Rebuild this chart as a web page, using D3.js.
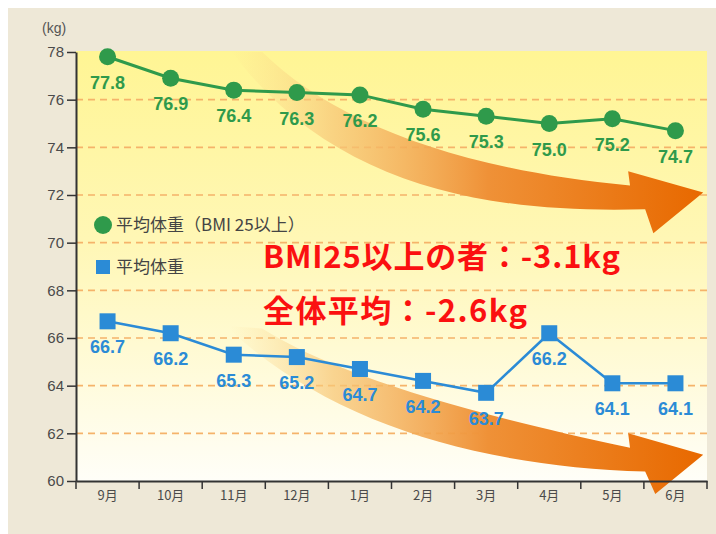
<!DOCTYPE html>
<html>
<head>
<meta charset="utf-8">
<script src="https://cdn.jsdelivr.net/npm/d3@7"></script>
<style>
  html, body { margin: 0; padding: 0; background: #fff; }
  svg { display: block; }
</style>
</head>
<body>
<div id="chart"></div>
<script>
// data
var months = ["9月", "10月", "11月", "12月", "1月", "2月", "3月", "4月", "5月", "6月"];
var bmiOver25 = [77.8, 76.9, 76.4, 76.3, 76.2, 75.6, 75.3, 75.0, 75.2, 74.7];
var overall = [66.7, 66.2, 65.3, 65.2, 64.7, 64.2, 63.7, 66.2, 64.1, 64.1];
var yTicks = [60, 62, 64, 66, 68, 70, 72, 74, 76, 78];
var legendNames = ["平均体重（BMI 25以上）", "平均体重"];
var notes = ["BMI25以上の者：-3.1kg", "全体平均：-2.6kg"];

var W = 716, H = 534;
var plot = { left: 76, right: 707, top: 52, bottom: 481 };
var green = "#2f9a4b", blue = "#2b8bd6";
var cjk = "'Noto Sans CJK JP', 'Noto Sans', sans-serif";
var num = "'Liberation Sans', Arial, sans-serif";

var svg = d3.select("#chart").append("svg")
  .attr("width", W).attr("height", H);

var defs = svg.append("defs");
var bg = defs.append("linearGradient").attr("id", "plotbg")
  .attr("x1", 0).attr("y1", 0).attr("x2", 0).attr("y2", 1);
bg.append("stop").attr("offset", "0%").attr("stop-color", "#fff594");
bg.append("stop").attr("offset", "45%").attr("stop-color", "#fff7b6");
bg.append("stop").attr("offset", "100%").attr("stop-color", "#fffef8");

var ag = defs.append("linearGradient").attr("id", "arrowgrad")
  .attr("gradientUnits", "userSpaceOnUse")
  .attr("x1", 230).attr("y1", 0).attr("x2", 700).attr("y2", 0);
ag.append("stop").attr("offset", "0%").attr("stop-color", "#fbd98c").attr("stop-opacity", 0);
ag.append("stop").attr("offset", "22%").attr("stop-color", "#f7c777").attr("stop-opacity", 0.75);
ag.append("stop").attr("offset", "55%").attr("stop-color", "#ef9137").attr("stop-opacity", 1);
ag.append("stop").attr("offset", "100%").attr("stop-color", "#e86900").attr("stop-opacity", 1);

// panel
svg.append("rect").attr("x", 8).attr("y", 8).attr("width", W - 8).attr("height", H - 8)
  .attr("fill", "#eee8d7");

/* Scales */
var x = d3.scaleBand().domain(months).range([plot.left, plot.right]);
var cx = function(i) { return x(months[i]) + x.bandwidth() / 2; };
var y = d3.scaleLinear().domain([60, 78]).range([plot.bottom, plot.top]);

svg.append("rect")
  .attr("x", plot.left).attr("y", plot.top - 1)
  .attr("width", plot.right - plot.left).attr("height", plot.bottom - plot.top + 1)
  .attr("fill", "url(#plotbg)");

// dashed grid
svg.append("g").selectAll("line")
  .data(yTicks.filter(function(t) { return t > 60 && t < 78; }))
  .enter().append("line")
  .attr("x1", plot.left).attr("x2", plot.right)
  .attr("y1", function(d) { return y(d); }).attr("y2", function(d) { return y(d); })
  .attr("stroke", "#f5b36a").attr("stroke-width", 1.6)
  .attr("stroke-dasharray", "7,5");

// trend arrows (in data units: category index, kg)
var xi = d3.scaleLinear().domain([0, 9]).range([cx(0), cx(9)]);
function arrowPath(p) {
  var pt = function(a) { return xi(a[0]) + "," + y(a[1]); };
  return "M" + pt(p[0]) + " C" + pt(p[1]) + " " + pt(p[2]) + " " + pt(p[3]) +
    " L" + pt(p[4]) + " L" + pt(p[5]) + " L" + pt(p[6]) + " L" + pt(p[7]) +
    " C" + pt(p[8]) + " " + pt(p[9]) + " " + pt(p[10]) + "Z";
}
var upperArrow = [[2.45, 78], [3.53, 75.2], [5.43, 73.1], [8.28, 72.4], [8.25, 73.0], [9.44, 72.1],
  [8.65, 70.4], [8.52, 71.4], [5.9, 71.2], [3.53, 72.5], [1.97, 78]];
var lowerArrow = [[2.45, 66.4], [3.53, 64.6], [5.43, 63.0], [8.28, 61.4], [8.25, 62.0], [9.44, 61.1],
  [8.68, 59.45], [8.52, 60.4], [5.9, 60.6], [3.53, 62.4], [1.87, 66.5]];
svg.append("g").selectAll("path")
  .data([upperArrow, lowerArrow])
  .enter().append("path")
  .attr("d", arrowPath)
  .attr("fill", "url(#arrowgrad)");

/* Axes */
var yAxis = d3.axisLeft(y).tickValues(yTicks).tickSize(9).tickSizeOuter(0).tickPadding(3);
var gy = svg.append("g").attr("transform", "translate(" + plot.left + ",0)").call(yAxis);
gy.select(".domain").attr("stroke", "#333").attr("stroke-width", 2);
gy.selectAll(".tick line").attr("stroke", "#333").attr("stroke-width", 1.5);
gy.selectAll(".tick text").attr("fill", "#4a4a4a").attr("font-size", 15)
  .attr("font-family", num);

var xAxis = d3.axisBottom(x).tickSize(0).tickPadding(10);
var gx = svg.append("g").attr("transform", "translate(0," + plot.bottom + ")").call(xAxis);
gx.select(".domain").attr("stroke", "#333").attr("stroke-width", 2);
gx.selectAll(".tick text").attr("fill", "#4a4a4a").attr("font-size", 13)
  .attr("font-family", cjk);
gx.selectAll("line.bound")
  .data(months.map(function(m) { return x(m); }).concat([plot.right]))
  .enter().append("line").attr("class", "bound")
  .attr("x1", function(d) { return d; }).attr("x2", function(d) { return d; })
  .attr("y1", 0).attr("y2", 8)
  .attr("stroke", "#333").attr("stroke-width", 1.5);

svg.append("text").attr("x", 42).attr("y", 33)
  .attr("font-family", num).attr("font-size", 14).attr("fill", "#555")
  .text("(kg)");

/* Series */
var line = d3.line().x(function(d, i) { return cx(i); }).y(function(d) { return y(d); });

svg.append("path").datum(bmiOver25).attr("d", line)
  .attr("fill", "none").attr("stroke", green).attr("stroke-width", 3);
svg.append("path").datum(overall).attr("d", line)
  .attr("fill", "none").attr("stroke", blue).attr("stroke-width", 2.5);

svg.append("g").selectAll("circle").data(bmiOver25).enter().append("circle")
  .attr("cx", function(d, i) { return cx(i); })
  .attr("cy", function(d) { return y(d); })
  .attr("r", 8.5).attr("fill", green);

svg.append("g").selectAll("rect").data(overall).enter().append("rect")
  .attr("x", function(d, i) { return cx(i) - 8; })
  .attr("y", function(d) { return y(d) - 8; })
  .attr("width", 16).attr("height", 16).attr("fill", blue);

function valueLabels(data, color) {
  svg.append("g").selectAll("text").data(data).enter().append("text")
    .attr("x", function(d, i) { return cx(i); })
    .attr("y", function(d) { return y(d) + 32; })
    .attr("text-anchor", "middle")
    .attr("font-family", num).attr("font-weight", "bold").attr("font-size", 18)
    .attr("fill", color)
    .text(function(d) { return d.toFixed(1); });
}
valueLabels(bmiOver25, green);
valueLabels(overall, blue);

/* Legend */
var legend = svg.append("g").attr("transform", "translate(103,225)");
legend.append("circle").attr("r", 9).attr("fill", green);
legend.append("rect").attr("x", -7).attr("y", 35).attr("width", 14).attr("height", 14).attr("fill", blue);
legend.selectAll("text").data(legendNames).enter().append("text")
  .attr("x", 13).attr("y", function(d, i) { return i * 42 + 6; })
  .attr("font-family", cjk).attr("font-size", 17).attr("fill", "#444")
  .text(function(d) { return d; });

/* Red notes */
svg.append("g").selectAll("text").data(notes).enter().append("text")
  .attr("x", 263).attr("y", function(d, i) { return 268 + i * 54; })
  .attr("textLength", function(d, i) { return i === 0 ? 357 : 264; })
  .attr("lengthAdjust", "spacing")
  .attr("font-family", cjk).attr("font-weight", "bold").attr("font-size", 31)
  .attr("fill", "#fb1010")
  .text(function(d) { return d; });
</script>
</body>
</html>
